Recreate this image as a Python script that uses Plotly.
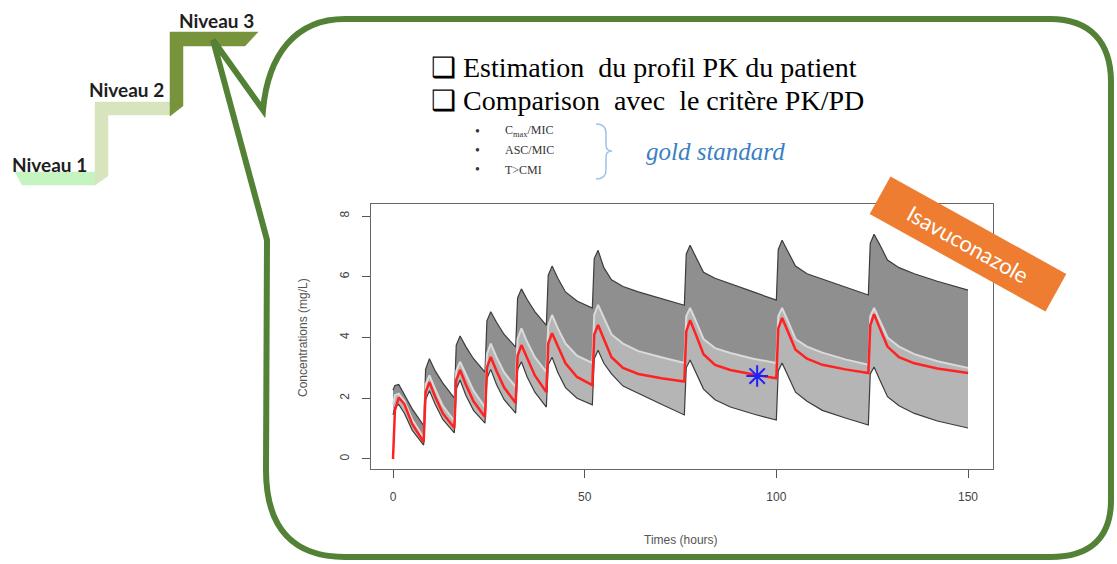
import plotly.graph_objects as go

# ---------------- data ----------------
TIME_H = [0, 0.5, 1.5, 3, 5,
          8, 8.5, 9.5, 11, 13,
          16, 16.5, 17.5, 19, 21,
          24, 24.5, 25.5, 27, 29,
          32, 32.5, 33.5, 35, 37,
          40, 40.5, 41.5, 43, 45, 48,
          52, 52.5, 53.5, 55, 57, 60, 64, 70,
          76, 76.5, 77.5, 79, 81, 84, 88, 94,
          100, 100.5, 101.5, 103, 105, 108, 112, 118,
          124, 124.5, 125.5, 127, 129, 132, 136, 142, 150]

UPPER = [2.27, 2.42, 2.45, 2.1, 1.65,
         1.1, 2.95, 3.3, 2.9, 2.5,
         2.0, 3.75, 4.05, 3.7, 3.3,
         2.86, 4.55, 4.85, 4.5, 4.1,
         3.68, 5.3, 5.6, 5.25, 4.85,
         4.4, 6.05, 6.35, 5.95, 5.5, 5.2,
         4.97, 6.6, 6.87, 6.3, 5.9, 5.68, 5.5, 5.28,
         5.06, 6.75, 7.04, 6.65, 6.15, 5.95, 5.78, 5.5,
         5.23, 6.9, 7.2, 6.85, 6.35, 6.1, 5.92, 5.65,
         5.4, 7.1, 7.4, 7.05, 6.55, 6.3, 6.1, 5.85, 5.56]

MIDDLE = [1.8, 2.1, 2.15, 1.9, 1.3,
          0.7, 2.45, 2.75, 2.3, 1.75,
          1.25, 2.9, 3.2, 2.8, 2.25,
          1.7, 3.45, 3.8, 3.35, 2.85,
          2.37, 3.95, 4.3, 3.85, 3.35,
          2.86, 4.4, 4.74, 4.3, 3.8, 3.4,
          3.16, 4.75, 5.07, 4.65, 4.1, 3.8, 3.55, 3.35,
          3.16, 4.7, 4.97, 4.55, 3.95, 3.65, 3.49, 3.3,
          3.16, 4.7, 4.97, 4.55, 3.95, 3.7, 3.5, 3.28,
          3.1, 4.7, 4.97, 4.55, 4.0, 3.7, 3.45, 3.22, 3.0]

MEDIAN = [0, 1.6, 2.02, 1.8, 1.15,
          0.56, 2.2, 2.53, 2.05, 1.5,
          1.02, 2.6, 2.93, 2.45, 1.9,
          1.38, 3.0, 3.36, 2.9, 2.35,
          1.84, 3.4, 3.75, 3.3, 2.75,
          2.2, 3.8, 4.14, 3.7, 3.15, 2.7,
          2.43, 4.1, 4.41, 3.95, 3.35, 3.0, 2.8, 2.66,
          2.55, 4.2, 4.57, 4.1, 3.45, 3.1, 2.93, 2.78,
          2.66, 4.3, 4.64, 4.2, 3.6, 3.3, 3.1, 2.95,
          2.83, 4.4, 4.77, 4.3, 3.7, 3.35, 3.15, 2.98, 2.83]

LOWER = [1.45, 1.7, 1.8, 1.5, 0.95,
         0.46, 1.95, 2.25, 1.8, 1.3,
         0.86, 2.3, 2.6, 2.1, 1.6,
         1.18, 2.65, 2.95, 2.45, 1.95,
         1.51, 2.95, 3.2, 2.7, 2.2,
         1.71, 3.1, 3.35, 2.85, 2.35, 2.0,
         1.78, 3.3, 3.58, 3.15, 2.8, 2.4, 2.15, 1.8,
         1.45, 3.0, 3.26, 2.85, 2.3, 1.95, 1.71, 1.48,
         1.28, 2.9, 3.16, 2.75, 2.2, 1.9, 1.6, 1.35,
         1.12, 2.8, 3.03, 2.6, 2.05, 1.75, 1.5, 1.25, 1.02]

PATIENT_T = [95]
PATIENT_C = [2.73]

X_TICKS = [0, 50, 100, 150]
Y_TICKS = [0, 2, 4, 6, 8]

# ---------------- helpers for page layout ----------------
W, H = 1117, 564


def px(x):
    return x / W


def py(y):
    return 1 - y / H


def pt(x, y):
    return f"{px(x):.5f},{py(y):.5f}"


def svg_path(parts):
    out = []
    for cmd, pts in parts:
        if cmd == "L":
            for x, y in pts:
                out.append("L " + pt(x, y))
        else:
            out.append(cmd + " " + " ".join(pt(x, y) for x, y in pts))
    return " ".join(out)


DARK = "#8f8f8f"
LIGHT = "#b5b5b5"

fig = go.Figure()
common = dict(x=TIME_H, mode="lines", hoverinfo="skip", showlegend=False)
fig.add_trace(go.Scatter(y=LOWER, line=dict(width=0, color=LIGHT), **common))
fig.add_trace(go.Scatter(y=MIDDLE, fill="tonexty", fillcolor=LIGHT,
                         line=dict(width=0, color=LIGHT), **common))
fig.add_trace(go.Scatter(y=UPPER, fill="tonexty", fillcolor=DARK,
                         line=dict(width=0, color=DARK), **common))
fig.add_trace(go.Scatter(y=UPPER, line=dict(width=1.2, color="#3c3c3c"), **common))
fig.add_trace(go.Scatter(y=LOWER, line=dict(width=1.2, color="#3c3c3c"), **common))
fig.add_trace(go.Scatter(y=MIDDLE, line=dict(width=2, color="#dadada"), **common))
fig.add_trace(go.Scatter(y=MEDIAN, line=dict(width=2.5, color="#ff2222"), **common))
fig.add_trace(go.Scatter(x=PATIENT_T, y=PATIENT_C, mode="markers", hoverinfo="skip",
                         showlegend=False,
                         marker=dict(symbol="asterisk-open", size=18, color="#2020ff",
                                     line=dict(width=2, color="#2020ff"))))

axis_font = dict(family="Liberation Sans, Arial", size=12, color="#444444")
fig.update_layout(
    width=W, height=H,
    margin=dict(l=0, r=0, t=0, b=0),
    paper_bgcolor="white", plot_bgcolor="white",
    xaxis=dict(domain=[px(371), px(993)], range=[-5.74, 156.52],
               tickvals=X_TICKS, ticks="outside", ticklen=8, tickcolor="#555555",
               tickfont=axis_font, showgrid=False, zeroline=False,
               showline=True, mirror=True, linecolor="#666666", linewidth=1.2,
               ticklabelstandoff=8),
    yaxis=dict(domain=[py(469), py(204)], range=[-0.33, 8.395],
               tickvals=Y_TICKS, ticks="outside", ticklen=8, tickcolor="#555555",
               tickfont=axis_font, tickangle=-90, showgrid=False, zeroline=False,
               showline=True, mirror=True, linecolor="#666666", linewidth=1.2,
               ticklabelstandoff=8),
)

shapes = []
# staircase
lvl1 = svg_path([("M", [(15, 172)]), ("L", [(96, 172), (96, 185), (22, 185)])]) + " Z"
lvl2 = svg_path([("M", [(95, 102)]),
                 ("L", [(172, 102), (172, 115), (108, 115), (108, 176), (95, 185)])]) + " Z"
lvl3 = svg_path([("M", [(170, 32)]),
                 ("L", [(258, 32), (245, 46), (183, 46), (183, 106), (170, 116)])]) + " Z"
for p, c in [(lvl1, "#c6f4c0"), (lvl2, "#d7e4bd"), (lvl3, "#77933c")]:
    shapes.append(dict(type="path", path=p, xref="paper", yref="paper",
                       fillcolor=c, line=dict(width=0.5, color=c), layer="above"))

# speech bubble with tail
bubble = svg_path([
    ("M", [(263, 110)]),
    ("C", [(268, 55), (295, 19), (345, 19)]),
    ("L", [(1050, 19)]),
    ("C", [(1090, 19), (1111, 42), (1111, 82)]),
    ("L", [(1111, 500)]),
    ("C", [(1111, 538), (1090, 557), (1050, 557)]),
    ("L", [(345, 557)]),
    ("C", [(295, 557), (266, 530), (266, 470)]),
    ("L", [(267, 240)]),
    ("L", [(213, 40)]),
]) + " Z"
shapes.append(dict(type="path", path=bubble, xref="paper", yref="paper",
                   line=dict(color="#538135", width=6), layer="above"))

# brace
brace = svg_path([("M", [(596, 124)]),
                  ("C", [(603, 124), (606, 127), (606, 133)]),
                  ("L", [(606, 145)]),
                  ("C", [(606, 149), (608, 151), (612, 151)]),
                  ("C", [(608, 151), (606, 153), (606, 157)]),
                  ("L", [(606, 170)]),
                  ("C", [(606, 176), (603, 179), (596, 179)])])
shapes.append(dict(type="path", path=brace, xref="paper", yref="paper",
                   line=dict(color="#9dc3e6", width=1.5), layer="above"))
fig.update_layout(shapes=shapes)

ann = []


def text(x, y, s, size, color="black", family="Liberation Serif", xanchor="left",
         angle=0, **kw):
    ann.append(dict(x=px(x), y=py(y), xref="paper", yref="paper", text=s,
                    showarrow=False, xanchor=xanchor, yanchor="middle",
                    textangle=angle,
                    font=dict(family=family, size=size, color=color), **kw))


nb = "\u00a0"
text(429, 68, "\u2751 Estimation" + nb + " du profil PK du patient", 28)
text(429, 100, "\u2751 Comparison" + nb + " avec" + nb + " le critère PK/PD", 28)
for yy, s in [(131, "C<sub>max</sub>/MIC"), (150, "ASC/MIC"), (170, "T&gt;CMI")]:
    text(473, yy, "•", 14, color="#333333")
    text(503, yy, s, 12, color="#333333")
text(644, 152, "<i>gold standard</i>", 25, color="#3b7fc4")

# axis titles
text(303, 337, "Concentrations (mg/L)", 12, color="#555555",
     family="Liberation Sans, Arial", xanchor="center", angle=-90)
text(681, 540, "Times (hours)", 12, color="#555555",
     family="Liberation Sans, Arial", xanchor="center")

# staircase labels
lvl_font = "Lato, Open Sans, sans-serif"
text(10, 164, "<b>Niveau 1</b>", 19, color="#1e1e1e", family=lvl_font)
text(87, 90, "<b>Niveau 2</b>", 19, color="#1e1e1e", family=lvl_font)
text(177, 20, "<b>Niveau 3</b>", 19, color="#1e1e1e", family=lvl_font)

# orange drug label
ann.append(dict(x=px(968), y=py(244), xref="paper", yref="paper",
                text="Isavuconazole", showarrow=False, textangle=29,
                xanchor="center", yanchor="middle",
                width=198, height=40, bgcolor="#ee7d31",
                font=dict(family="Lato, Open Sans, sans-serif", size=22, color="white")))

fig.update_layout(annotations=ann)
fig.write_html("out.html")
